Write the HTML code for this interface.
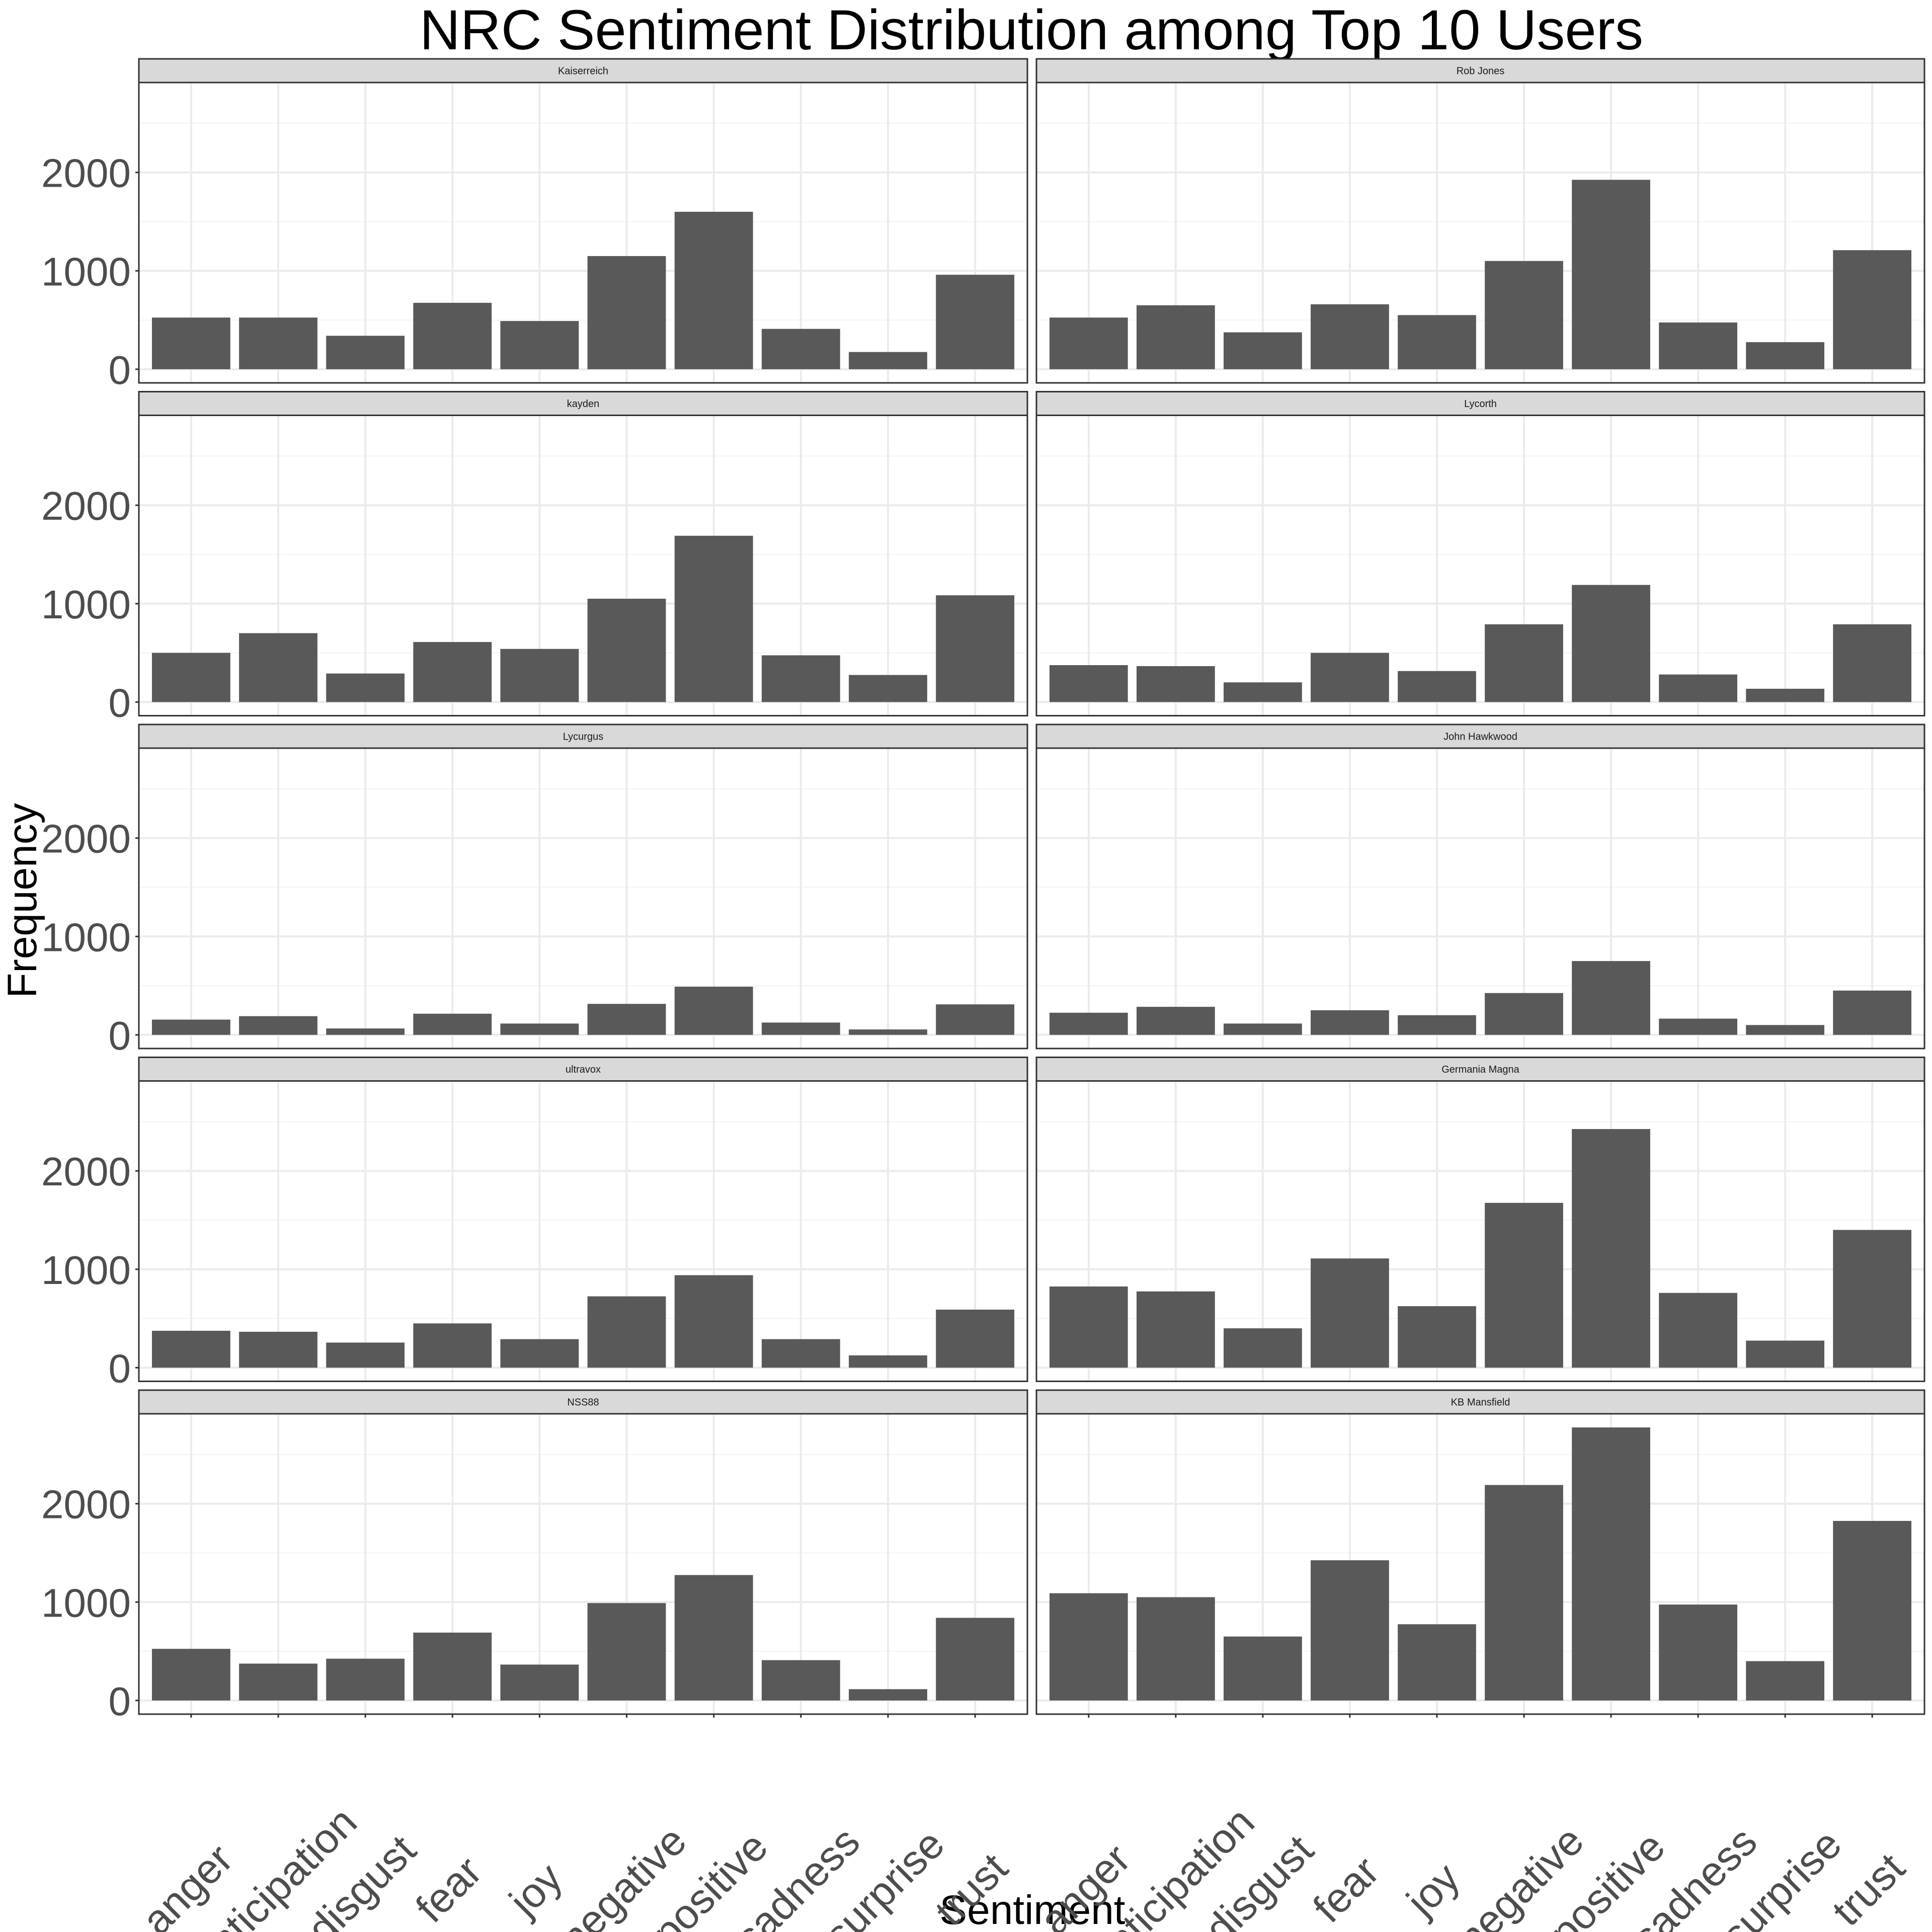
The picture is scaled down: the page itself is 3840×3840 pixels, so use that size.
<!DOCTYPE html>
<html><head><meta charset="utf-8"><style>
html,body{margin:0;padding:0;background:#fff;}
svg{display:block;font-family:"Liberation Sans",sans-serif;}
</style></head><body>
<svg id="chart" width="3840" height="3840" viewBox="0 0 3840 3840" xmlns="http://www.w3.org/2000/svg">
<rect width="3840" height="3840" fill="#fff"/>
<text x="2050" y="98" font-size="112" text-anchor="middle" fill="#000">NRC Sentiment Distribution among Top 10 Users</text>
<text transform="translate(72,1790) rotate(-90)" font-size="82" text-anchor="middle" fill="#000">Frequency</text>
<text x="2052" y="3824" font-size="82" text-anchor="middle" fill="#000">Sentiment</text>
<g id="panels"></g>
</svg>
<script>
const categories = ["anger","anticipation","disgust","fear","joy","negative","positive","sadness","surprise","trust"];
const users = ["Kaiserreich","Rob Jones","kayden","Lycorth","Lycurgus","John Hawkwood","ultravox","Germania Magna","NSS88","KB Mansfield"];
const kaiserreich = [525,525,340,675,490,1150,1600,410,175,960];
const robJones = [525,650,375,660,550,1100,1925,475,275,1210];
const kayden = [500,700,290,610,540,1050,1690,475,275,1085];
const lycorth = [375,365,200,500,315,790,1190,280,135,790];
const lycurgus = [155,190,65,215,115,315,490,125,55,310];
const johnHawkwood = [225,285,115,250,200,425,750,165,100,450];
const ultravox = [375,365,255,450,290,725,940,290,125,590];
const germaniaMagna = [825,775,400,1110,625,1675,2425,760,275,1400];
const nss88 = [525,375,425,690,365,990,1275,410,115,840];
const kbMansfield = [1090,1050,650,1425,775,2190,2775,975,400,1825];
const seriesList = [kaiserreich,robJones,kayden,lycorth,lycurgus,johnHawkwood,ultravox,germaniaMagna,nss88,kbMansfield];
const yTicks = [0,1000,2000];
const yMinor = [500,1500,2500];

const NS="http://www.w3.org/2000/svg";
const root=document.getElementById('panels');
function mk(tag,attrs,parent){const e=document.createElementNS(NS,tag);for(const k in attrs)e.setAttribute(k,attrs[k]);(parent||root).appendChild(e);return e;}
const maxV=Math.max(...seriesList.flat());
const yTop=maxV*1.05;
const cols=[[276,2042],[2060,3825]];
const rowStep=661.5, stripTop0=117, stripH=47, plotTop0=164, plotBot0=761;
seriesList.forEach((vals,idx)=>{
  const r=Math.floor(idx/2), c=idx%2;
  const [x0,x1]=cols[c];
  const st=stripTop0+r*rowStep, pt=plotTop0+r*rowStep, pb=plotBot0+r*rowStep;
  const yRange=pb-pt;
  const ys=v=>pb-(v+maxV*0.05)/(yTop+maxV*0.05)*yRange;
  const step=(x1-x0)/10.2;
  const xs=i=>x0+(i+0.6)*step;
  const g=mk('g',{});
  
  
  const strip=mk('rect',{x:x0,y:st,width:x1-x0,height:stripH,fill:'#D9D9D9',stroke:'#333333','stroke-width':3},g);
  
  
  const stxt=mk('text',{x:(x0+x1)/2,y:st+stripH/2+7,'font-size':20,'text-anchor':'middle',fill:'#1A1A1A'},g);
  stxt.textContent=users[idx];
  
  
  yMinor.forEach(v=>{const l=mk('line',{x1:x0,x2:x1,y1:ys(v),y2:ys(v),stroke:'#F3F3F3','stroke-width':2},g);
    
    });
  yTicks.forEach(v=>{const l=mk('line',{x1:x0,x2:x1,y1:ys(v),y2:ys(v),stroke:'#EBEBEB','stroke-width':4},g);
    
    });
  categories.forEach((cat,i)=>{const l=mk('line',{x1:xs(i),x2:xs(i),y1:pt,y2:pb,stroke:'#EBEBEB','stroke-width':4},g);
    
    });
  vals.forEach((v,i)=>{const b=mk('rect',{x:xs(i)-0.45*step,y:ys(v),width:0.9*step,height:ys(0)-ys(v),fill:'#595959'},g);
    
    });
  const border=mk('rect',{x:x0,y:pt,width:x1-x0,height:pb-pt,fill:'none',stroke:'#333333','stroke-width':3},g);
  
  
  if(c===0){
    yTicks.forEach(v=>{
      const t=mk('line',{x1:x0-7,x2:x0,y1:ys(v),y2:ys(v),stroke:'#333333','stroke-width':3},g);
      
      
      const lb=mk('text',{x:x0-16,y:ys(v)+29,'font-size':80,'text-anchor':'end',fill:'#4D4D4D'},g);
      lb.textContent=v;
      
      
    });
  }
  if(r===4){
    categories.forEach((cat,i)=>{
      const t=mk('line',{x1:xs(i),x2:xs(i),y1:pb,y2:pb+7,stroke:'#333333','stroke-width':3},g);
      
      
      const lb=mk('text',{transform:`translate(${xs(i)-8},3755) rotate(-45)`,'font-size':83,'text-anchor':'middle',dy:'0.35em',fill:'#4D4D4D'},g);
      lb.textContent=cat;
      
      
    });
  }
});
</script>
</body></html>
